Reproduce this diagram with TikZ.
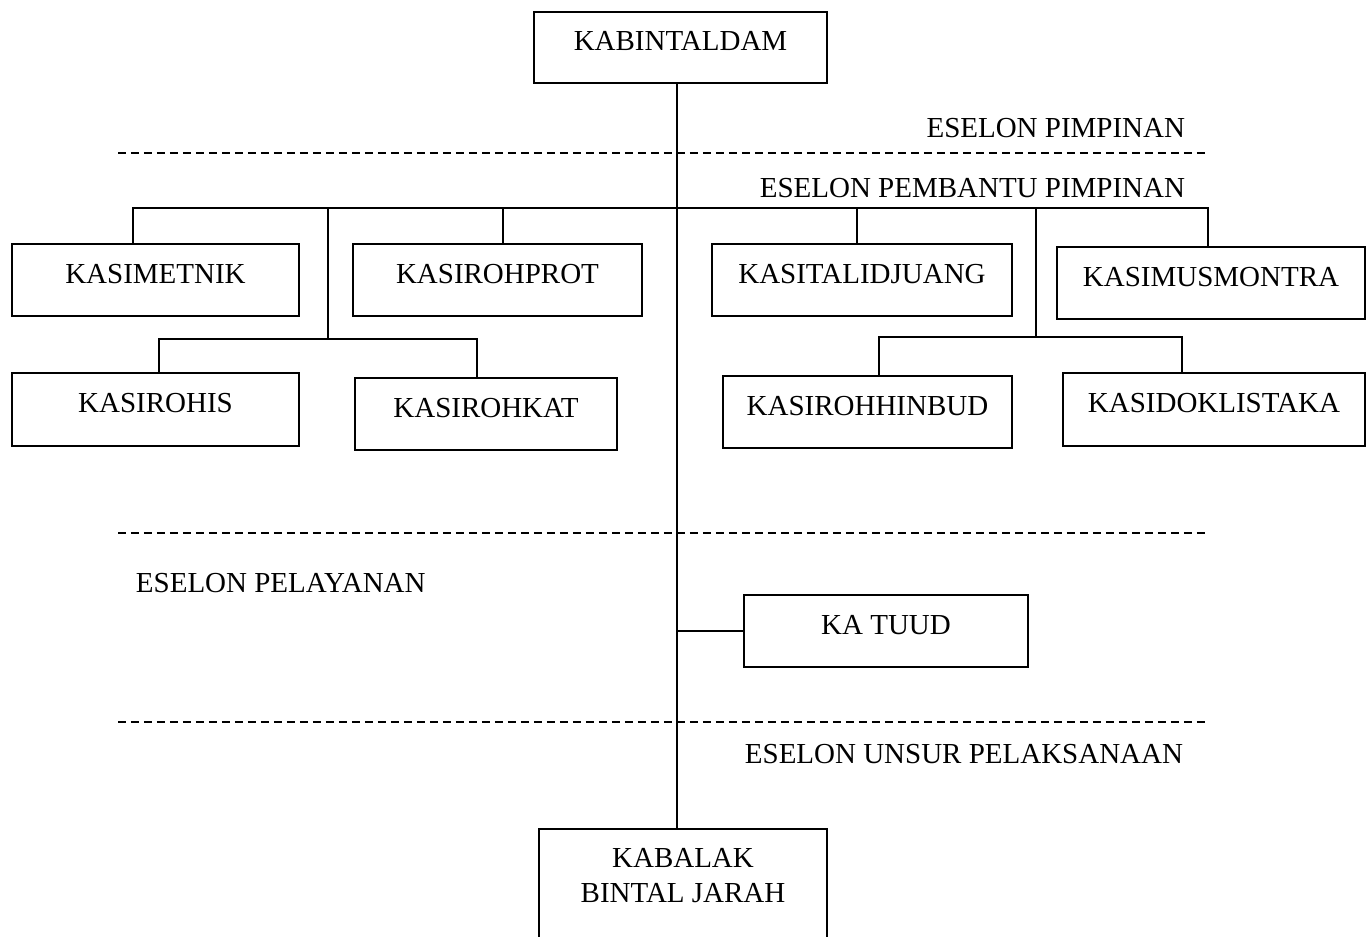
\documentclass[tikz,border=0pt]{standalone}
\usepackage{fontspec}
\setmainfont{Liberation Serif}
\usetikzlibrary{positioning}

\begin{document}
\begin{tikzpicture}[
  x=0.02cm, y=-0.02cm,
  line width=1.1pt,
  box/.style={rectangle, draw, inner sep=0pt, minimum height=1.44cm,
    text height=0.4cm, text depth=0.28cm, font=\fontsize{16.5}{19.9}\selectfont},
  lbl/.style={inner sep=0pt, font=\fontsize{16.5}{19.9}\selectfont},
  sep/.style={dash pattern=on 0.16cm off 0.1cm}
]
\useasboundingbox (0,0) rectangle (1370,937);

\node[box, minimum width=5.86cm, minimum height=1.42cm] (kabintaldam) at (680.5,47.5) {KABINTALDAM};
\node[box, minimum width=5.74cm] (kasimetnik) at (155.5,280) {KASIMETNIK};
\node[box, minimum width=5.78cm] (kasirohprot) at (497.5,280) {KASIROHPROT};
\node[box, minimum width=6.00cm] (kasitalidjuang) at (862,280) {KASITALIDJUANG};
\node[box, minimum width=6.16cm] (kasimusmontra) at (1211,283) {KASIMUSMONTRA};
\node[box, minimum width=5.74cm, minimum height=1.46cm] (kasirohis) at (155.5,409.5) {KASIROHIS};
\node[box, minimum width=5.24cm] (kasirohkat) at (486,414) {KASIROHKAT};
\node[box, minimum width=5.78cm] (kasirohhinbud) at (867.5,412) {KASIROHHINBUD};
\node[box, minimum width=6.04cm, minimum height=1.46cm] (kasidoklistaka) at (1214,409.5) {KASIDOKLISTAKA};
\node[box, minimum width=5.68cm] (katuud) at (886,631) {KA TUUD};
\node[box, minimum width=5.76cm, minimum height=3cm, anchor=north,
  label={[lbl, align=center, anchor=north, yshift=-0.38cm]north:KABALAK\\BINTAL JARAH}] (kabalak) at (683,828) {};

\node[lbl, anchor=base east] (pimpinan) at (1186,137) {ESELON PIMPINAN};
\node[lbl, anchor=base east] (pembantu) at (1186,197) {ESELON PEMBANTU PIMPINAN};
\node[lbl, anchor=base west] (pelayanan) at (135,592) {ESELON PELAYANAN};
\node[lbl, anchor=base east] (pelaksanaan) at (1184,763) {ESELON UNSUR PELAKSANAAN};

\coordinate (dMetnik) at (133,208);
\coordinate (dSubL) at (328,208);
\coordinate (dRohprot) at (503,208);
\coordinate (dTrunk) at (677,208);
\coordinate (dTalidjuang) at (857,208);
\coordinate (dSubR) at (1036,208);
\coordinate (dMusmontra) at (1208,208);
\coordinate (sL) at (328,339);
\coordinate (sLa) at (159,339);
\coordinate (sLb) at (477,339);
\coordinate (sR) at (1036,337);
\coordinate (sRa) at (879,337);
\coordinate (sRb) at (1182,337);

\foreach \y in {153, 533, 722}
  \draw[sep] (118,\y) -- (1205,\y);

\draw (kabintaldam.south -| dTrunk) -- (kabalak.north -| dTrunk);
\draw (kasimetnik.north -| dMetnik) -- (dMetnik) -- (dMusmontra) -- (kasimusmontra.north -| dMusmontra);
\foreach \d/\n in {dRohprot/kasirohprot, dTalidjuang/kasitalidjuang}
  \draw (\d) -- (\n.north -| \d);
\draw (dSubL) -- (sL);
\draw (kasirohis.north -| sLa) -- (sLa) -- (sLb) -- (kasirohkat.north -| sLb);
\draw (dSubR) -- (sR);
\draw (kasirohhinbud.north -| sRa) -- (sRa) -- (sRb) -- (kasidoklistaka.north -| sRb);
\draw (katuud.west -| dTrunk) -- (katuud.west);

\end{tikzpicture}
\end{document}
